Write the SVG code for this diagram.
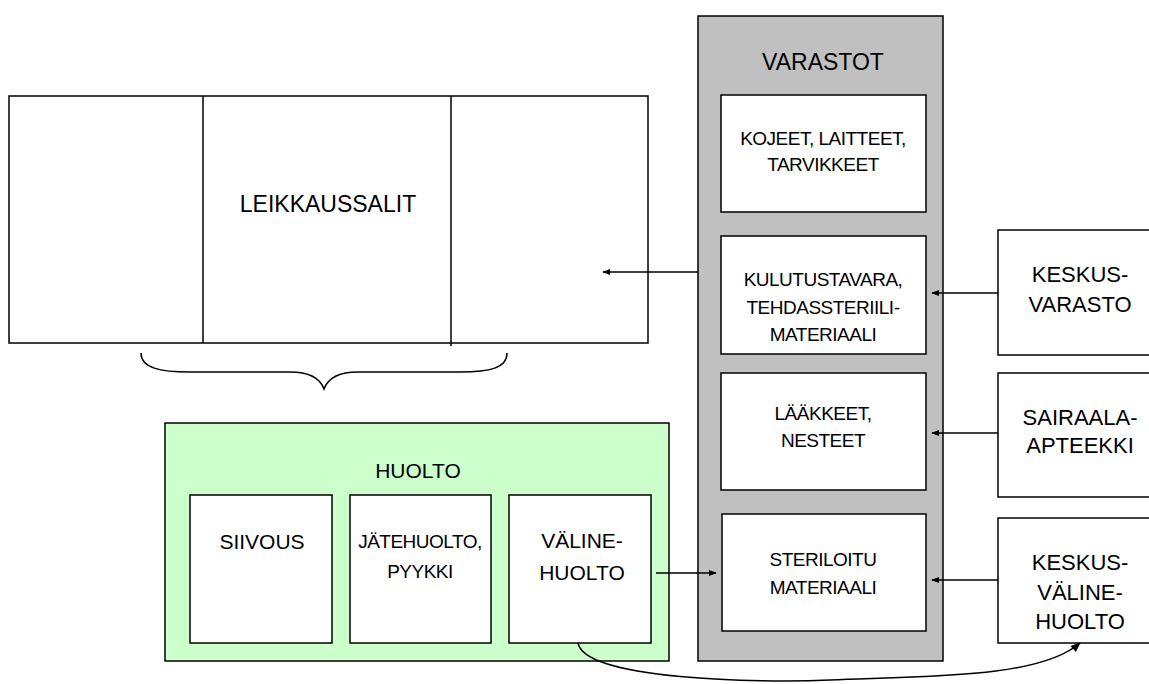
<svg xmlns="http://www.w3.org/2000/svg" width="1149" height="684" viewBox="0 0 1149 684">
<defs>
<style>
.box{fill:#fff;stroke:#000;stroke-width:1.5}
.t{font-family:"Liberation Sans",Arial,sans-serif;font-size:22px;fill:#000;text-anchor:middle}
.s{font-family:"Liberation Sans",Arial,sans-serif;font-size:19px;fill:#000;text-anchor:middle;letter-spacing:-0.5px}
.ln{fill:none;stroke:#000;stroke-width:1.5}
</style>
<marker id="ah" viewBox="0 0 10 10" refX="9" refY="5" markerWidth="8" markerHeight="8" markerUnits="userSpaceOnUse" orient="auto">
<path d="M0,1 L10,5 L0,9 Z" fill="#000"/>
</marker>
<marker id="ah2" viewBox="0 0 10 10" refX="9" refY="5" markerWidth="12" markerHeight="10" markerUnits="userSpaceOnUse" orient="auto">
<path d="M0,1 L10,5 L0,9 Z" fill="#000"/>
</marker>
</defs>
<rect width="1149" height="684" fill="#fff"/>

<g id="leikkaussalit">
<rect class="box" x="9" y="96" width="639" height="247"/>
<line class="ln" x1="203" y1="96" x2="203" y2="343"/>
<line class="ln" x1="451" y1="96" x2="451" y2="346"/>
<text class="t" x="328" y="212" style="font-size:23px">LEIKKAUSSALIT</text>
</g>

<g id="brace">
<path class="ln" d="M141,353 C141,368 160,372 190,372 L290,372 C310,372 320,378 324,389 C328,378 338,372 358,372 L460,372 C490,372 507,368 507,353"/>
</g>

<g id="varastot">
<rect x="698" y="16" width="245" height="645" fill="#c0c0c0" stroke="#000" stroke-width="1.5"/>
<text class="t" x="823" y="70" style="font-size:23px">VARASTOT</text>
</g>
<g id="kojeet">
<rect class="box" x="721" y="95" width="205" height="117"/>
<text class="s" x="823" y="145">KOJEET, LAITTEET,</text>
<text class="s" x="823" y="171">TARVIKKEET</text>
</g>
<g id="kulutustavara">
<rect class="box" x="721" y="236" width="205" height="118"/>
<text class="s" x="823" y="286">KULUTUSTAVARA,</text>
<text class="s" x="823" y="314">TEHDASSTERIILI-</text>
<text class="s" x="823" y="341">MATERIAALI</text>
</g>
<g id="laakkeet">
<rect class="box" x="721" y="373" width="205" height="117"/>
<text class="s" x="823" y="420">LÄÄKKEET,</text>
<text class="s" x="823" y="447">NESTEET</text>
</g>
<g id="steriloitu">
<rect class="box" x="722" y="514" width="204" height="117"/>
<text class="s" x="823" y="566">STERILOITU</text>
<text class="s" x="823" y="594">MATERIAALI</text>
</g>

<g id="keskusvarasto">
<rect class="box" x="998" y="230" width="160" height="125"/>
<text class="t" x="1080" y="282">KESKUS-</text>
<text class="t" x="1080" y="312">VARASTO</text>
</g>
<g id="sairaala-apteekki">
<rect class="box" x="998" y="373" width="160" height="124"/>
<text class="t" x="1080" y="425">SAIRAALA-</text>
<text class="t" x="1080" y="453">APTEEKKI</text>
</g>
<g id="keskusvalinehuolto">
<rect class="box" x="998" y="518" width="160" height="125"/>
<text class="t" x="1080" y="570">KESKUS-</text>
<text class="t" x="1080" y="600">VÄLINE-</text>
<text class="t" x="1080" y="629">HUOLTO</text>
</g>

<g id="huolto">
<rect x="165" y="423" width="504" height="238" fill="#ccffcc" stroke="#000" stroke-width="1.5"/>
<text class="t" x="418" y="478" style="font-size:21px">HUOLTO</text>
</g>
<g id="siivous">
<rect class="box" x="190" y="495" width="142" height="148"/>
<text class="t" x="262" y="549" style="font-size:21px">SIIVOUS</text>
</g>
<g id="jatehuolto">
<rect class="box" x="350" y="495" width="141" height="148"/>
<text class="s" x="420" y="548">JÄTEHUOLTO,</text>
<text class="s" x="420" y="578">PYYKKI</text>
</g>
<g id="valinehuolto">
<rect class="box" x="509" y="495" width="142" height="148"/>
<text class="t" x="582" y="548" style="font-size:21px">VÄLINE-</text>
<text class="t" x="582" y="580" style="font-size:21px">HUOLTO</text>
</g>

<g id="connectors">
<line class="ln" x1="698" y1="272" x2="603" y2="272" marker-end="url(#ah)"/>
<line class="ln" x1="998" y1="293" x2="932" y2="293" marker-end="url(#ah)"/>
<line class="ln" x1="998" y1="433" x2="932" y2="433" marker-end="url(#ah)"/>
<line class="ln" x1="998" y1="580" x2="932" y2="580" marker-end="url(#ah)"/>
<line class="ln" x1="656" y1="573" x2="716" y2="573" marker-end="url(#ah)"/>
<path class="ln" d="M578,643 C585,680 760,683 830,680 C930,676 1040,678 1080,643" marker-end="url(#ah2)"/>
</g>
</svg>
